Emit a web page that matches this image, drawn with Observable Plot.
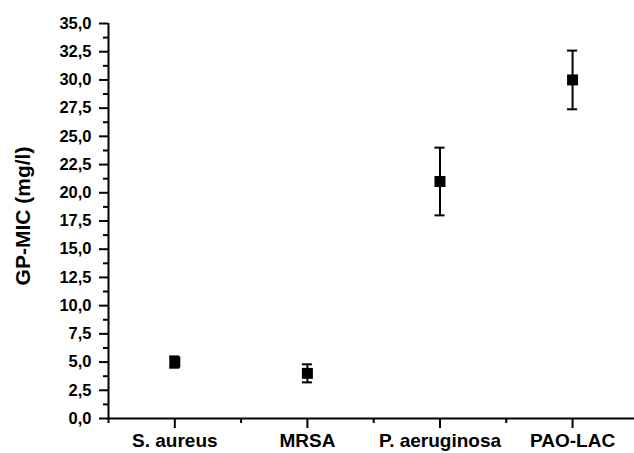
<!DOCTYPE html>
<html>
<head>
<meta charset="utf-8">
<script src="https://cdn.jsdelivr.net/npm/d3@7"></script>
<script src="https://cdn.jsdelivr.net/npm/@observablehq/plot@0.6"></script>
<style>
  html, body { margin: 0; padding: 0; background: #fff; }
  #chart svg { display: block; }
</style>
</head>
<body>
<div id="chart"></div>
<script>
const categories = ["S. aureus", "MRSA", "P. aeruginosa", "PAO-LAC"];
const means = [5.0, 4.0, 21.0, 30.0];
const errors = [0.5, 0.8, 3.0, 2.6];
const yMajorTicks = [0, 2.5, 5, 7.5, 10, 12.5, 15, 17.5, 20, 22.5, 25, 27.5, 30, 32.5, 35];
const yMinorTicks = [1.25, 3.75, 6.25, 8.75, 11.25, 13.75, 16.25, 18.75, 21.25, 23.75, 26.25, 28.75, 31.25, 33.75];
const xMajorTicks = [1, 2, 3, 4];
const xMinorTicks = [0.5, 1.5, 2.5, 3.5];
const yTitle = "GP-MIC (mg/l)";

const data = categories.map((c, i) => ({
  cat: c, pos: i + 1, mean: means[i], lo: means[i] - errors[i], hi: means[i] + errors[i]
}));
const capHalf = 0.038;
const font = "'Liberation Sans', Arial, sans-serif";

const chart = Plot.plot({
  width: 634,
  height: 453,
  marginLeft: 108,
  marginRight: 0,
  marginTop: 23,
  marginBottom: 35,
  style: { fontFamily: font, background: "#fff", overflow: "visible" },
  x: { type: "linear", domain: [0.5, 4.467] },
  y: { domain: [0, 35] },
  marks: [
    Plot.axisY({ ticks: yMajorTicks, tickSize: 9, tickPadding: 8, strokeWidth: 2,
      tickFormat: d => d.toFixed(1).replace(".", ","), fontSize: 16.5, fontWeight: "bold",
      fill: "#000", label: null }),
    Plot.axisY({ ticks: yMinorTicks, tickSize: 5, strokeWidth: 2, tickFormat: () => "", label: null }),
    Plot.axisX({ ticks: xMajorTicks, tickSize: 10, tickPadding: 5, strokeWidth: 2,
      tickFormat: d => categories[d - 1], fontSize: 19, fontWeight: "bold", fill: "#000", label: null }),
    Plot.axisX({ ticks: xMinorTicks, tickSize: 5, strokeWidth: 2, tickFormat: () => "", label: null }),
    Plot.ruleX([0.5], { strokeWidth: 2, stroke: "#000" }),
    Plot.ruleY([0], { strokeWidth: 2, stroke: "#000" }),
    Plot.ruleX(data, { x: "pos", y1: "lo", y2: "hi", strokeWidth: 2, stroke: "#000" }),
    Plot.ruleY(data, { y: "lo", x1: d => d.pos - capHalf, x2: d => d.pos + capHalf, strokeWidth: 2, stroke: "#000" }),
    Plot.ruleY(data, { y: "hi", x1: d => d.pos - capHalf, x2: d => d.pos + capHalf, strokeWidth: 2, stroke: "#000" }),
    Plot.dot(data, { x: "pos", y: "mean", symbol: "square", r: 6.2, fill: "#000", stroke: "none" }),
    Plot.text([yTitle], { frameAnchor: "left", textAnchor: "middle", rotate: -90, dx: -85, dy: -5,
      fontSize: 21, fontWeight: "bold", fill: "#000", text: d => d })
  ]
});
document.getElementById("chart").append(chart);
</script>
</body>
</html>
